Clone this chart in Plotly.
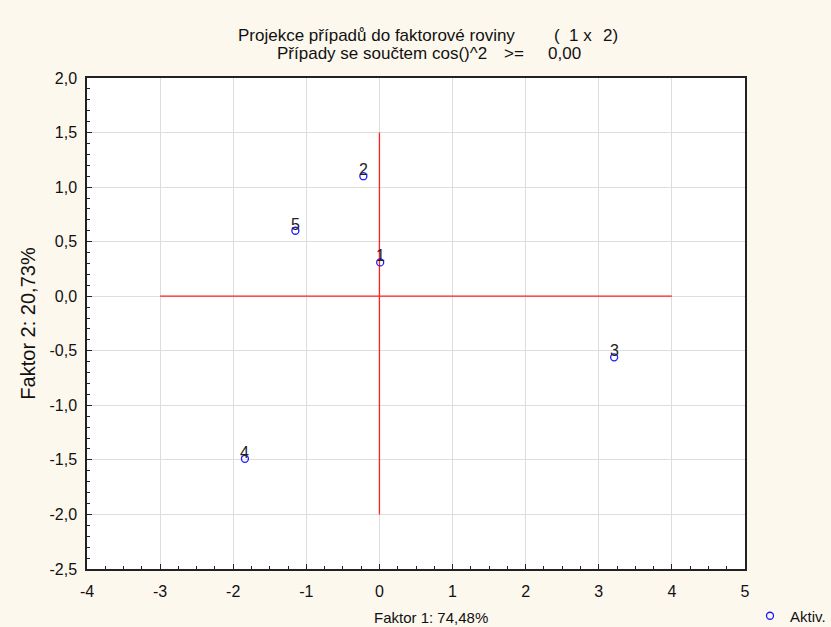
import plotly.graph_objects as go

case_labels = ["1", "2", "3", "4", "5"]
factor1 = [0.01, -0.22, 3.21, -1.84, -1.15]
factor2 = [0.31, 1.10, -0.56, -1.49, 0.60]

hline_x = [-3, 4]
hline_y = [0, 0]
vline_x = [0, 0]
vline_y = [-2, 1.5]

x_ticks = [-4, -3, -2, -1, 0, 1, 2, 3, 4, 5]
x_ticktext = ["-4", "-3", "-2", "-1", "0", "1", "2", "3", "4", "5"]
y_ticks = [2.0, 1.5, 1.0, 0.5, 0.0, -0.5, -1.0, -1.5, -2.0, -2.5]
y_ticktext = ["2,0", "1,5", "1,0", "0,5", "0,0", "-0,5", "-1,0", "-1,5", "-2,0", "-2,5"]

title1_main = "Projekce případů do faktorové roviny"
title1_open = "(\u00a0\u00a01 x"
title1_close = "2)"
title2_main = "Případy se součtem cos()^2"
title2_op = ">="
title2_val = "0,00"
x_title = "Faktor 1: 74,48%"
y_title = "Faktor 2: 20,73%"
legend_name = "Aktiv."

FONT = "Liberation Sans, Arial, sans-serif"
W, H = 831, 627
L, R, T, B = 87, 86, 78, 58
PW, PH = W - L - R, H - T - B


def px_x(px):
    return (px - L) / PW


def px_y(py):
    return (H - B - py) / PH


fig = go.Figure()
fig.add_trace(go.Scatter(x=hline_x, y=hline_y, mode="lines",
                         line=dict(color="#ff2020", width=1.3),
                         showlegend=False, hoverinfo="skip"))
fig.add_trace(go.Scatter(x=vline_x, y=vline_y, mode="lines",
                         line=dict(color="#ff2020", width=1.3),
                         showlegend=False, hoverinfo="skip"))
fig.add_trace(go.Scatter(x=factor1, y=factor2, mode="markers", name=legend_name,
                         marker=dict(symbol="circle-open", size=7,
                                     color="#1a1aff", line=dict(width=1.3))))

for lab, xv, yv in zip(case_labels, factor1, factor2):
    fig.add_annotation(x=xv, y=yv, text=lab, showarrow=False,
                       xanchor="center", yanchor="bottom", yshift=-4,
                       font=dict(family=FONT, size=16, color="#222222"))

title_font = dict(family=FONT, size=17, color="#111111")
for txt, px, py in [(title1_main, 236, 35), (title1_open, 552, 35), (title1_close, 601, 35),
                    (title2_main, 275, 54), (title2_op, 502, 54), (title2_val, 546, 54)]:
    fig.add_annotation(xref="paper", yref="paper", x=px_x(px), y=px_y(py),
                       text=txt, showarrow=False, xanchor="left", yanchor="middle",
                       font=title_font)

fig.add_annotation(xref="paper", yref="paper", x=px_x(431), y=px_y(617),
                   text=x_title, showarrow=False, xanchor="center", yanchor="middle",
                   font=dict(family=FONT, size=15, color="#111111"))

axis_common = dict(showline=True, linecolor="#222222", linewidth=1.5, mirror=True,
                   showgrid=True, gridcolor="#dddddd", gridwidth=1.2,
                   zeroline=False, ticks="inside", ticklen=5, tickcolor="#222222",
                   tickfont=dict(family=FONT, size=16, color="#111111"))

fig.update_layout(
    width=W, height=H,
    paper_bgcolor="#fdf8ee", plot_bgcolor="#ffffff",
    margin=dict(l=L, r=R, t=T, b=B, autoexpand=False),
    font=dict(family=FONT, size=14, color="#111111"),
    xaxis=dict(range=[-4, 5], tickvals=x_ticks, ticktext=x_ticktext, ticklabelstandoff=7,
               minor=dict(ticks="inside", dtick=0.25, tick0=0, ticklen=3, tickcolor="#222222"),
               **axis_common),
    yaxis=dict(range=[-2.5, 2.0], tickvals=y_ticks, ticktext=y_ticktext, ticklabelstandoff=5,
               minor=dict(ticks="inside", dtick=0.1, tick0=0, ticklen=3, tickcolor="#222222"),
               title=dict(text=y_title, standoff=8, font=dict(size=20)), **axis_common),
    showlegend=True,
    legend=dict(xref="container", yref="container", x=750 / W, y=(H - 616) / H,
                xanchor="left", yanchor="middle", bgcolor="rgba(0,0,0,0)",
                font=dict(family=FONT, size=15, color="#111111"),
                itemwidth=30),
)

fig.write_html("out.html", config={"displayModeBar": False},
               post_script="document.body.style.margin='0';document.body.style.background='#fdf8ee';")
